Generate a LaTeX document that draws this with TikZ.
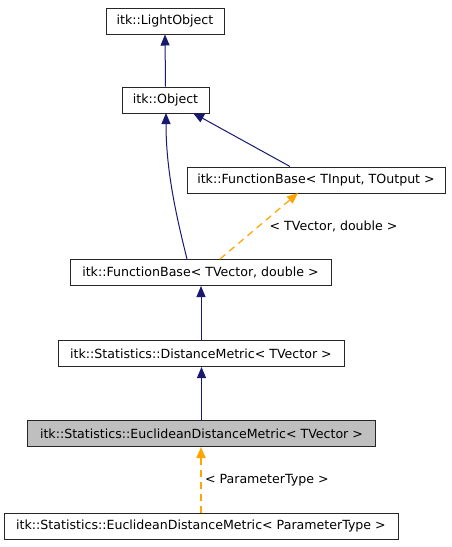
\documentclass[tikz,border=0pt]{standalone}
\usepackage{fontspec}
\setmainfont{DejaVu Sans}
\usepackage{xcolor}
\definecolor{dgnavy}{HTML}{191970}
\definecolor{dgorange}{HTML}{FFA500}
\definecolor{dggray}{HTML}{BFBFBF}
\usetikzlibrary{arrows.meta,calc}
\tikzset{
  dgbox/.style={draw=black!85,line width=1pt,fill=white,inner sep=0pt,minimum height=26pt,font=\fontsize{12.6}{14}\selectfont},
  dgcurrent/.style={dgbox,fill=dggray},
  dgflow/.style={-{Triangle[length=11pt,width=9pt]},dgnavy,line width=1pt},
  dgtmpl/.style={-{Triangle[length=11pt,width=9pt]},dgorange,line width=1.2pt,dash pattern=on 7pt off 5pt},
  dglabel/.style={font=\fontsize{12.6}{14}\selectfont,text=black,inner sep=1pt},
}

\begin{document}
\begin{tikzpicture}[x=1pt,y=-1pt]
\useasboundingbox (0,0) rectangle (451,547);
\node[dgbox,minimum width=118pt](lo) at (165,21){itk::LightObject};
\node[dgbox,minimum width=87pt](ob) at (165.5,100){itk::Object};
\node[dgbox,minimum width=258pt](fio) at (316,180){itk::FunctionBase< TInput, TOutput >};
\node[dgbox,minimum width=261pt](fvd) at (200.5,272.5){itk::FunctionBase< TVector, double >};
\node[dgbox,minimum width=286pt](dm) at (201,353.5){itk::Statistics::DistanceMetric< TVector >};
\node[dgcurrent,minimum width=348pt](edv) at (201.5,433.5){itk::Statistics::EuclideanDistanceMetric< TVector >};
\node[dgbox,minimum width=394pt](edp) at (201,526.5){itk::Statistics::EuclideanDistanceMetric< ParameterType >};
% inheritance
\draw[dgflow](ob.north)--(lo.south);
\draw[dgflow](fio.north-|290,0)--(193,113);
\draw[dgflow](fvd.north-|187,0)..controls(176,215)and(166,170)..(166,113);
\draw[dgflow](dm.north)--(fvd.south-|dm.north);
\draw[dgflow](edv.north)--(edv.north|-dm.south);
% template instances
\draw[dgtmpl](fvd.north-|220,0)--node[dglabel,right=9pt]{< TVector, double >}(298,193);
\draw[dgtmpl,line width=2pt](edp.north-|201,0)--node[dglabel,right=2pt]{< ParameterType >}(edv.south-|201,0);
\end{tikzpicture}
\end{document}
